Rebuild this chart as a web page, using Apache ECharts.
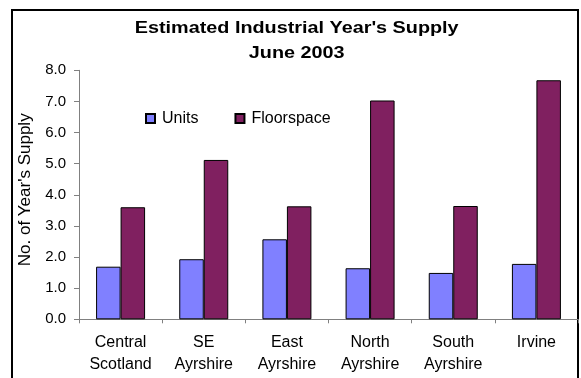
<!DOCTYPE html>
<html>
<head>
<meta charset="utf-8">
<script src="https://cdn.jsdelivr.net/npm/echarts@6/dist/echarts.min.js"></script>
<style>html,body{margin:0;padding:0;background:#fff;}#c{width:581px;height:378px;}</style>
</head>
<body>
<div id="c"></div>
<script>
var categories = ['Central\nScotland', 'SE\nAyrshire', 'East\nAyrshire', 'North\nAyrshire', 'South\nAyrshire', 'Irvine'];
var unitsValues = [1.69, 1.93, 2.57, 1.64, 1.49, 1.78];
var floorspaceValues = [3.60, 5.12, 3.63, 7.03, 3.64, 7.68];
var yTicks = [0, 1, 2, 3, 4, 5, 6, 7, 8];
var titleLines = ["Estimated Industrial Year's Supply", 'June 2003'];
var yAxisTitle = "No. of Year's Supply";

var chart = echarts.init(document.getElementById('c'), null, {renderer: 'canvas'});
var FONT = '"Liberation Sans", Arial, sans-serif';
chart.setOption({
  animation: false,
  backgroundColor: '#fff',
  textStyle: {fontFamily: FONT},
  graphic: [
    {type: 'rect', shape: {x: 12, y: 10, width: 566, height: 390}, style: {fill: 'none', stroke: '#000', lineWidth: 2}, z: 0},
    {type: 'text', x: 296.7, y: 28, scaleX: 1.2, style: {x: 0, y: 0, text: titleLines[0], textAlign: 'center', textVerticalAlign: 'middle', font: 'bold 16.5px ' + FONT, fill: '#000'}},
    {type: 'text', x: 296.7, y: 53, scaleX: 1.2, style: {x: 0, y: 0, text: titleLines[1], textAlign: 'center', textVerticalAlign: 'middle', font: 'bold 16.5px ' + FONT, fill: '#000'}}
  ],
  legend: {
    left: 140, top: 105.5,
    itemWidth: 9, itemHeight: 9, itemGap: 36,
    icon: 'rect',
    textStyle: {fontSize: 16, lineHeight: 16, color: '#000', fontFamily: FONT, padding: [0, 0, 0, 2]},
    data: ['Units', 'Floorspace']
  },
  grid: {left: 79, right: 3, top: 70.3, bottom: 58.7, containLabel: false},
  xAxis: {
    type: 'category',
    data: categories,
    axisLine: {lineStyle: {color: '#808080', width: 1}},
    axisTick: {show: true, length: 4, lineStyle: {color: '#808080'}},
    axisLabel: {fontSize: 16, color: '#000', lineHeight: 22, margin: 12, interval: 0, fontFamily: FONT}
  },
  yAxis: {
    type: 'value', min: yTicks[0], max: yTicks[yTicks.length - 1], interval: 1,
    name: yAxisTitle, nameLocation: 'middle', nameGap: 45,
    nameTextStyle: {fontSize: 17, color: '#000', fontFamily: FONT, padding: [0, 0, 0, 10]},
    axisLine: {show: true, lineStyle: {color: '#808080'}},
    axisTick: {show: true, length: 5, lineStyle: {color: '#808080'}},
    splitLine: {show: false},
    axisLabel: {fontSize: 15, color: '#000', margin: 13, fontFamily: FONT, formatter: function (v) { return v.toFixed(1); }}
  },
  series: [
    {name: 'Units', type: 'bar', data: unitsValues, barWidth: 24.5, barGap: '0%',
     itemStyle: {color: '#8080FF', borderColor: '#000', borderWidth: 1}},
    {name: 'Floorspace', type: 'bar', data: floorspaceValues, barWidth: 24.5,
     itemStyle: {color: '#802060', borderColor: '#000', borderWidth: 1}}
  ]
});
</script>
</body>
</html>
